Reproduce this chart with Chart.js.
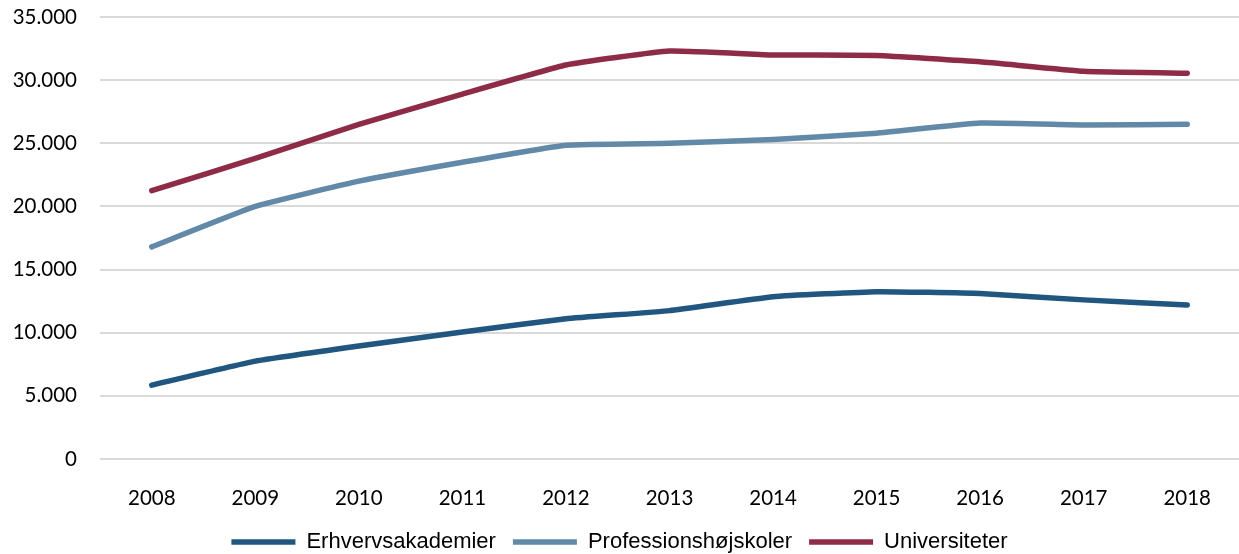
<!DOCTYPE html>
<html>
<head>
<meta charset="utf-8">
<script src="https://cdn.jsdelivr.net/npm/chart.js@4"></script>
<style>
  html, body { margin: 0; padding: 0; background: #fff; overflow: hidden; }
  #wrap { width: 1239px; height: 563px; }
</style>
</head>
<body>
<div id="wrap"><canvas id="myChart"></canvas></div>
<script>
const years = ['2008', '2009', '2010', '2011', '2012', '2013', '2014', '2015', '2016', '2017', '2018'];

const erhvervsakademier = [5850, 7750, 8950, 10050, 11100, 11750, 12850, 13250, 13100, 12600, 12200];
const professionshojskoler = [16800, 20000, 22000, 23500, 24850, 25000, 25300, 25800, 26600, 26450, 26500];
const universiteter = [21250, 23800, 26500, 28900, 31200, 32300, 32000, 31950, 31450, 30700, 30550];

const yTicks = [0, 5000, 10000, 15000, 20000, 25000, 30000, 35000];

function fmt(v) {
    return String(v).replace(/\B(?=(\d{3})+(?!\d))/g, '.');
}

function line(label, values, color) {
    return {
        label: label,
        data: values,
        borderColor: color,
        backgroundColor: color,
        borderWidth: 5.5,
        borderCapStyle: 'round',
        pointRadius: 0,
        tension: 0.12,
        fill: false
    };
}

const config = {
    type: 'line',
    data: {
        labels: years,
        datasets: [
            line('Erhvervsakademier', erhvervsakademier, '#20567f'),
            line('Professionshøjskoler', professionshojskoler, '#6289a8'),
            line('Universiteter', universiteter, '#8e2c48'),
        ]
    },
    options: {
        responsive: true,
        maintainAspectRatio: false,
        animation: false,
        layout: { padding: { top: 17, right: 0, left: 0, bottom: 0 } },
        plugins: {
            tooltip: { enabled: false },
            legend: {
                position: 'bottom',
                labels: {
                    usePointStyle: true,
                    pointStyle: 'line',
                    pointStyleWidth: 64,
                    boxHeight: 20,
                    padding: 17,
                    color: '#000',
                    font: { family: 'Liberation Sans Narrow, Arial Narrow, sans-serif', size: 22 }
                }
            }
        },
        scales: {
            x: {
                offset: true,
                afterFit: (axis) => { axis.height = 55; },
                grid: { display: false, drawTicks: false },
                border: { display: false },
                ticks: {
                    color: '#000',
                    padding: 27,
                    font: { family: 'Lato, sans-serif', size: 20.5 }
                }
            },
            y: {
                min: 0,
                max: 35000,
                afterBuildTicks: (axis) => { axis.ticks = yTicks.map(v => ({ value: v })); },
                afterFit: (axis) => { axis.width = 100; axis.paddingTop = 0; axis.paddingBottom = 0; },
                grid: { color: '#d9d9d9', lineWidth: 2, drawTicks: false },
                border: { display: false },
                ticks: {
                    color: '#000',
                    padding: 23,
                    font: { family: 'Lato, sans-serif', size: 20.5 },
                    callback: (v) => fmt(v)
                }
            }
        }
    }
};

const myChart = new Chart(document.getElementById('myChart'), config);
</script>
</body>
</html>
